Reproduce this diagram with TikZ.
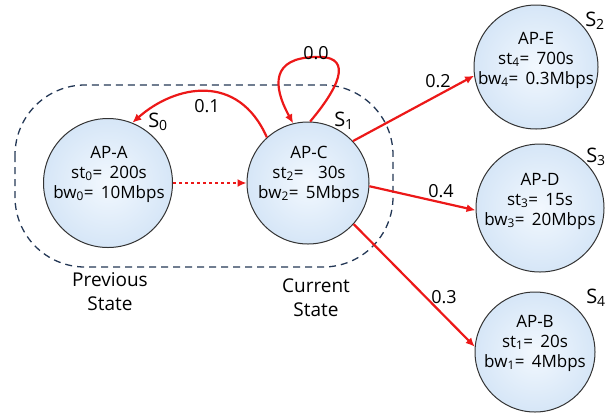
\documentclass[tikz,border=0pt]{standalone}
\usepackage{fontspec}
\setmainfont{Open Sans}
\usetikzlibrary{arrows.meta}
\definecolor{edgered}{RGB}{236,24,24}
\definecolor{navy}{RGB}{35,55,85}
\definecolor{fillin}{RGB}{242,248,254}
\definecolor{fillout}{RGB}{214,230,247}
\begin{document}
\begin{tikzpicture}[x=1pt,y=-1pt,
  state/.style={circle,draw=black!80,line width=1pt,inner color=fillin,outer color=fillout,inner sep=0pt},
  stxt/.style={align=center,font=\fontsize{17}{20}\selectfont,inner sep=0pt},
  tr/.style={draw=edgered,line width=2.2pt,-{Latex[length=9pt,width=8pt]}},
  lbl/.style={font=\fontsize{18}{20}\selectfont,inner sep=0pt},
  slbl/.style={font=\fontsize{20}{22}\selectfont,inner sep=0pt},
  captxt/.style={align=center,font=\fontsize{19}{24}\selectfont,inner sep=0pt}]
\useasboundingbox (0,0) rectangle (615,416);
\draw[navy,dash pattern=on 7pt off 5pt,line width=1.3pt,rounded corners=70pt] (15,85) rectangle (393,267);

\node[state,minimum size=129pt] (A) at (108,183) {};
\node[state,minimum size=122pt] (C) at (308,183) {};
\node[state,minimum size=124pt] (E) at (536,67) {};
\node[state,minimum size=128pt] (D) at (540,208) {};
\node[state,minimum size=120pt] (B) at (535,352) {};

\node[stxt] (At) at (109,174) {AP-A\\st\textsubscript{0}= \,200s\\bw\textsubscript{0}= \,10Mbps};
\node[stxt] (Ct) at (309,174) {AP-C\\st\textsubscript{2}= \,\, 30s\\bw\textsubscript{2}= \,5Mbps};
\node[stxt] (Et) at (536,60) {AP-E\\st\textsubscript{4}= \,700s\\bw\textsubscript{4}= \,0.3Mbps};
\node[stxt] (Dt) at (540,201) {AP-D\\st\textsubscript{3}= \,15s\\bw\textsubscript{3}= \,20Mbps};
\node[stxt] (Bt) at (535,343) {AP-B\\st\textsubscript{1}= \,20s\\bw\textsubscript{1}= \,4Mbps};

\node[slbl] (S0) at (158,122) {S\textsubscript{0}};
\node[slbl] (S1) at (344,121) {S\textsubscript{1}};
\node[slbl] (S2) at (595,21) {S\textsubscript{2}};
\node[slbl] (S3) at (596,157) {S\textsubscript{3}};
\node[slbl] (S4) at (596,298) {S\textsubscript{4}};

\draw[tr] (C.132) .. controls (238,72) and (175,85) .. (A.68);
\draw[tr] (C.88) .. controls (345,80) and (350,55) .. (315,57) .. controls (272,58) and (272,85) .. (C.104);
\draw[edgered,line width=2.2pt,dash pattern=on 3pt off 3pt,-{Latex[length=9pt,width=8pt]}] (A) -- (C);
\draw[tr] (C.43) -- (E.188);
\draw[tr] (C.-3) -- (D.182);
\draw[tr] (C.-42) -- (B.175);

\node[lbl] (l01) at (207,106) {0.1};
\node[lbl] (l00) at (316,53) {0.0};
\node[lbl] (l02) at (438,81) {0.2};
\node[lbl] (l04) at (441,191) {0.4};
\node[lbl] (l03) at (444,297) {0.3};

\node[captxt] (prev) at (110,292) {Previous\\State};
\node[captxt] (cur) at (316,298) {Current\\State};
\end{tikzpicture}
\end{document}
